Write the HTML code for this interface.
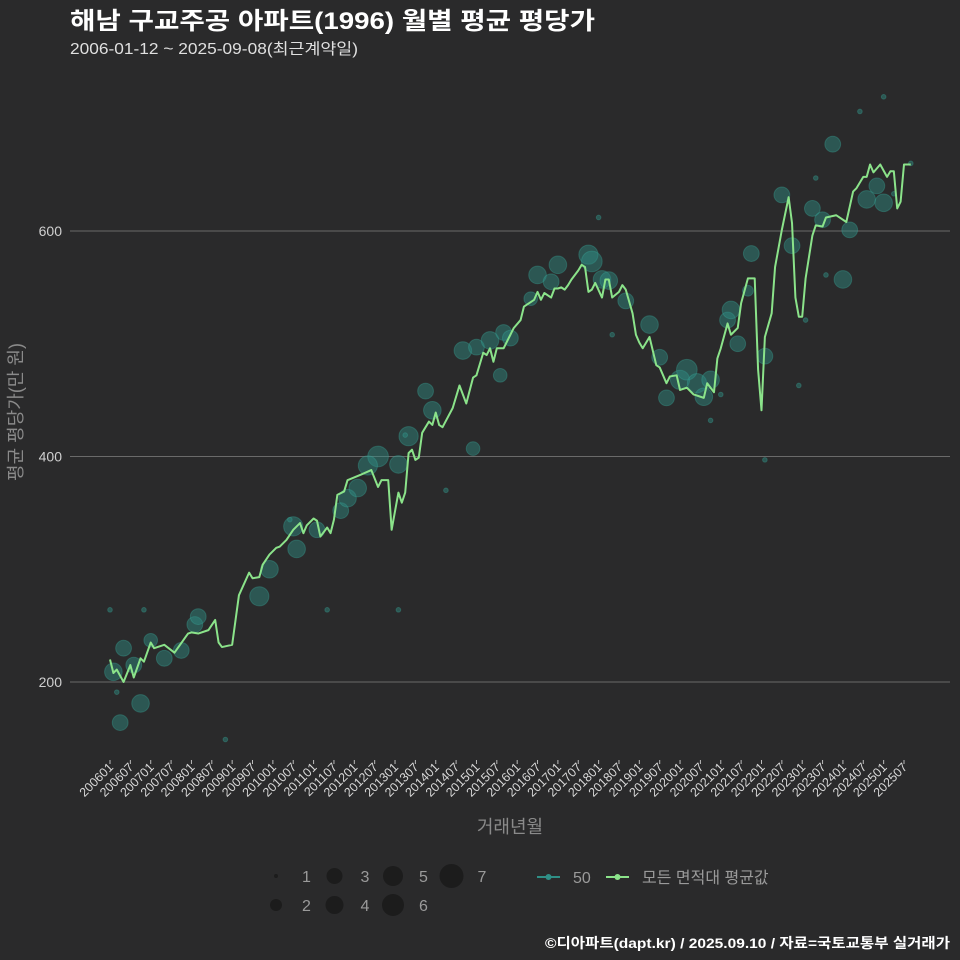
<!DOCTYPE html>
<html><head><meta charset="utf-8"><style>
html,body{margin:0;padding:0;background:#2a2a2b;}
svg{display:block;font-family:"Liberation Sans","Noto Sans CJK KR",sans-serif;}
</style></head><body>
<svg id="chart" width="960" height="960" viewBox="0 0 960 960" xmlns="http://www.w3.org/2000/svg">
<rect width="960" height="960" fill="#2a2a2b"/>
<text x="70" y="29" fill="#ffffff" font-size="24" font-weight="bold" textLength="525" lengthAdjust="spacingAndGlyphs">해남 구교주공 아파트(1996) 월별 평균 평당가</text>
<text x="70" y="54" fill="#e0e0e0" font-size="15.5" textLength="288" lengthAdjust="spacingAndGlyphs">2006-01-12 ~ 2025-09-08(최근계약일)</text>
<g id="grid"></g>
<g id="yticks"></g>
<text transform="translate(22,412) rotate(-90)" text-anchor="middle" fill="#8a8a8a" font-size="18">평균 평당가(만 원)</text>
<g id="bubbles"></g>
<polyline id="avgline" fill="none" stroke="#8be38a" stroke-width="2" stroke-linejoin="round"/>
<g id="xticks"></g>
<text x="510" y="833" text-anchor="middle" fill="#8a8a8a" font-size="18">거래년월</text>
<g id="legend"></g>
<text x="950" y="948" text-anchor="end" fill="#ffffff" font-size="14" font-weight="bold" textLength="405" lengthAdjust="spacingAndGlyphs">©디아파트(dapt.kr) / 2025.09.10 / 자료=국토교통부 실거래가</text>
</svg>
<script>
// month index counted from 2006-01
const lineMonths=[0,1,2,4,6,7,9,10,12,13,16,19,23,24,26,29,31,32,33,36,38,41,42,44,45,47,49,50,52,54,56,57,58,60,61,62,64,65,66,67,69,70,74,77,79,80,82,83,85,86,87,88,89,90,91,92,94,95,96,97,98,101,103,105,107,108,110,111,112,113,114,116,119,121,122,125,126,127,128,130,131,132,133,134,135,136,138,139,140,141,142,143,145,146,147,148,150,151,152,154,155,156,157,159,161,162,164,165,167,168,170,172,175,176,178,179,180,182,183,185,186,188,190,191,192,193,195,196,198,200,201,202,203,204,205,207,208,210,211,214,215,217,219,220,222,223,224,225,227,229,230,231,232,233,234,236];
const lineValues=[220,208,211,200,215,204,221,218,235,230,233,226,243,244,243,246,255,235,231,233,277,297,292,293,304,313,319,320,326,335,341,332,339,345,343,329,337,332,344,366,369,379,384,388,373,379,379,335,368,359,368,403,406,397,399,421,431,428,439,428,426,443,463,447,470,472,492,490,496,484,496,496,514,521,533,539,546,539,545,541,549,549,550,548,552,557,565,570,568,546,548,554,541,557,557,541,546,552,548,527,508,501,496,506,481,479,465,471,472,459,461,455,452,465,457,487,496,518,508,514,536,558,558,477,441,506,527,568,601,630,607,541,524,524,558,596,605,604,612,614,612,608,635,638,648,648,659,652,659,648,653,653,620,626,659,659];
const bubbleMonths=[1,4,3,9,7,12,16,21,25,26,44,47,55,54,61,68,70,73,79,76,85,88,95,93,104,108,107,112,115,116,118,124,126,130,132,141,142,145,147,152,159,162,164,168,170,173,175,177,182,183,185,189,193,198,201,207,210,213,216,218,223,226,228,0,2,10,34,64,53,85,87,99,144,148,180,177,193,203,205,208,211,221,228,236,231,188];
const bubbleValues=[209,230,164,181,215,237,221,228,251,258,276,300,318,338,335,352,363,372,400,392,393,418,441,458,494,497,407,503,472,510,505,540,561,555,570,579,573,557,556,538,517,488,452,468,477,465,453,468,521,530,500,580,489,632,587,620,610,677,557,601,628,640,625,264,191,264,149,264,344,264,419,370,612,508,455,432,397,463,521,647,561,706,719,660,633,547];
const bubbleCounts=[5,4,4,5,4,3,4,4,4,4,6,5,5,6,4,4,5,5,7,6,5,6,5,4,5,4,3,5,3,4,4,3,5,4,5,6,7,5,5,4,5,4,4,6,7,6,5,5,4,5,4,4,4,4,4,4,4,4,5,4,5,4,5,1,1,1,1,1,1,1,1,1,1,1,1,1,1,1,1,1,1,1,1,1,1,2];
const yTicks=[200,400,600];
const xTickLabels=[];
for(let y=2006;y<=2025;y++){xTickLabels.push(y+"01");xTickLabels.push(y+"07");}
const legendSizes=[1,2,3,4,5,6,7];

const NS="http://www.w3.org/2000/svg";
const xScale=m=>110+m*(904-110)/234;
const yScale=v=>682-(v-200)*(682-231)/400;
const rScale=c=>c<=1?2.3:2+3.4*Math.sqrt(c-1);
function mk(tag,attrs,parent){const e=document.createElementNS(NS,tag);for(const k in attrs)e.setAttribute(k,attrs[k]);parent.appendChild(e);return e;}

const grid=document.getElementById('grid'),yt=document.getElementById('yticks');
yTicks.forEach(v=>{
  const l=mk('line',{x1:70,x2:950,y1:yScale(v),y2:yScale(v),stroke:'#6a6a6a','stroke-width':1},grid);
  
  
  const t=mk('text',{x:62,y:yScale(v)+5,'text-anchor':'end',fill:'#cfcfcf','font-size':14},yt);
  t.textContent=v;
  
  
});

const bg=document.getElementById('bubbles');
bubbleMonths.forEach((m,i)=>{
  const c=mk('circle',{cx:xScale(m),cy:yScale(bubbleValues[i]),r:rScale(bubbleCounts[i]),fill:'#2f8f86','fill-opacity':0.45,stroke:'#3aa89c','stroke-opacity':0.35},bg);
  
  
});

document.getElementById('avgline').setAttribute('points',lineMonths.map((m,i)=>xScale(m)+','+yScale(lineValues[i])).join(' '));

const xt=document.getElementById('xticks');
xTickLabels.forEach((lab,i)=>{
  const x=xScale(i*6);
  const tk=mk('line',{x1:x,x2:x,y1:760,y2:764,stroke:'#bbbbbb','stroke-width':1},xt);
  
  
  const t=mk('text',{x:x+4,y:768,'text-anchor':'end',fill:'#d8d8d8','font-size':12.5,transform:'rotate(-45 '+(x+4)+' 768)'},xt);
  t.textContent=lab;
  
  
});

const lg=document.getElementById('legend');
legendSizes.forEach((s,i)=>{
  const col=Math.floor(i/2),row=i%2;
  const cx=276+col*58.5,cy=876+row*29;
  const c=mk('circle',{cx:cx,cy:cy,r:[2,6,8,9,10,11,12][i],fill:'#1a1a1a','fill-opacity':0.85},lg);
  
  
  const t=mk('text',{x:cx+26,y:cy+6,fill:'#9a9a9a','font-size':16},lg);
  t.textContent=s;
  
  
});
[[537,'#2f8f86','50'],[606,'#8be38a','모든 면적대 평균값']].forEach((e,i)=>{
  const l=mk('line',{x1:e[0],x2:e[0]+23,y1:877,y2:877,stroke:e[1],'stroke-width':2},lg);
  
  
  const d=mk('circle',{cx:e[0]+11.5,cy:877,r:3,fill:e[1]},lg);
  
  
  const t=mk('text',{x:e[0]+36,y:883,fill:'#9a9a9a','font-size':16},lg);
  t.textContent=e[2];
  
  
});
</script>
</body></html>
